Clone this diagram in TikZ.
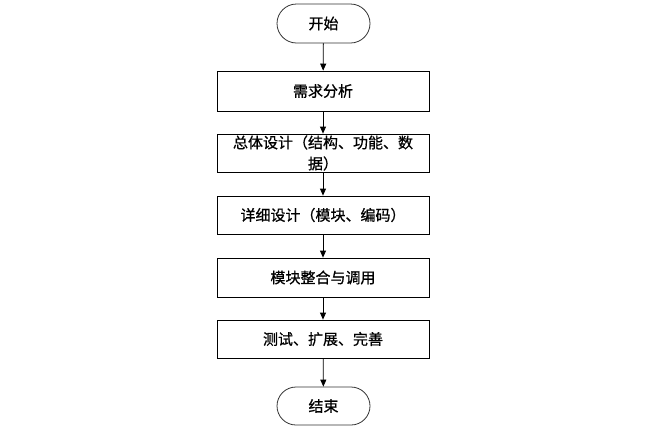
\documentclass[tikz,border=0pt]{standalone}
\usepackage{fontspec}
\setmainfont{Noto Sans CJK SC}[FakeBold=0.8]
\usetikzlibrary{arrows.meta,shapes.misc}
\begin{document}
\begin{tikzpicture}[x=1pt,y=-1pt,
  term/.style={draw=black!80,line width=0.8pt,rounded rectangle,minimum width=93pt,minimum height=39pt,inner sep=0pt,font=\fontsize{15}{18}\selectfont},
  proc/.style={draw=black,line width=0.8pt,rectangle,minimum width=212pt,minimum height=39pt,inner sep=0pt,font=\fontsize{15}{18}\selectfont,align=center},
  arr/.style={draw=black,line width=0.8pt,-{Triangle[length=7pt,width=6pt]}}]
\useasboundingbox (0,0) rectangle (648,432);
\node[term] (start) at (323.5,23.5) {开始};
\node[proc,minimum height=40pt] (p1) at (323,91) {需求分析};
\node[proc,minimum height=38pt,font=\fontsize{15}{21}\selectfont] (p2) at (323,153) {总体设计（结构、功能、数\\据）};
\node[proc,minimum height=38pt] (p3) at (323,215) {详细设计（模块、编码）};
\node[proc] (p4) at (323,277.5) {模块整合与调用};
\node[proc,minimum height=38pt] (p5) at (323,339) {测试、扩展、完善};
\node[term,minimum height=38pt] (end) at (323.5,406) {结束};
\draw[arr] (start) -- (p1);
\draw[arr] (p1) -- (p2);
\draw[arr] (p2) -- (p3);
\draw[arr] (p3) -- (p4);
\draw[arr] (p4) -- (p5);
\draw[arr] (p5) -- (end);
\end{tikzpicture}
\end{document}
